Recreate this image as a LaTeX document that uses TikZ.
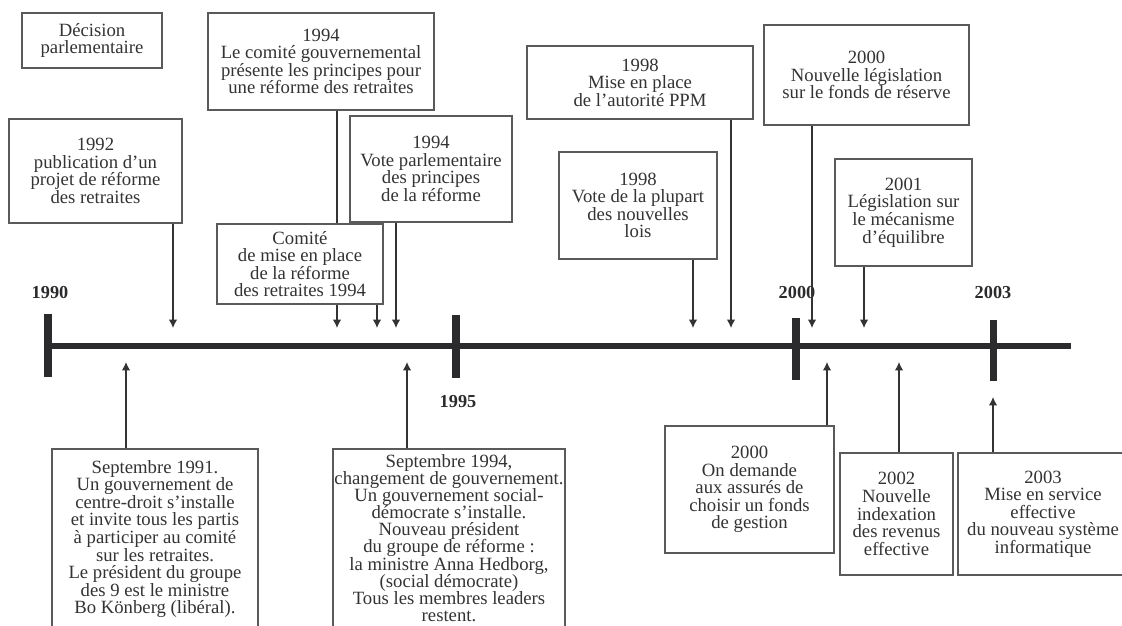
\documentclass[tikz,border=0pt]{standalone}
\usepackage{fontspec}
\setmainfont{Liberation Serif}
\usepackage{tikz}
\usetikzlibrary{arrows.meta}

\definecolor{inkgray}{HTML}{333333}
\definecolor{framegray}{HTML}{5A5A5A}
\definecolor{axisgray}{HTML}{2B2B2E}

\tikzset{
  event/.style={draw=framegray, line width=1pt, fill=white, inner sep=0pt, align=center,
    text=inkgray, font=\fontsize{13.3}{12.5}\selectfont},
  boxsize/.style 2 args={minimum width=#1*0.025cm, minimum height=#2*0.025cm},
  link/.style={->, draw=inkgray, line width=0.8pt},
  year/.style={text=axisgray, font=\fontsize{13}{13}\selectfont\bfseries},
  tick/.style={draw=axisgray, line width=5pt}
}

\begin{document}
\begin{tikzpicture}[x=0.025cm, y=-0.025cm, >={Latex[length=6pt,width=6pt]}]
  \useasboundingbox (0,0) rectangle (1122,625);
  \clip (0,0) rectangle (1122,625);
  \def\axisY{346}
  \def\downY{328}
  \def\upY{362}

  % axe du temps
  \draw[draw=axisgray, line width=4.3pt] (45,\axisY) -- (1071,\axisY);
  \draw[tick] (48,314) -- (48,377);
  \draw[tick] (456,315) -- (456,378);
  \draw[tick] (796,318) -- (796,380);
  \draw[tick] (993,320) -- (993,381);
  \node[year] (y1990) at (50,293) {1990};
  \node[year] (y1995) at (458,402) {1995};
  \node[year] (y2000) at (797,293) {2000};
  \node[year] (y2003) at (993,293) {2003};

  \coordinate (d92) at (173,\downY);
  \coordinate (d94a) at (337,\downY);
  \coordinate (d94b) at (377,\downY);
  \coordinate (d94c) at (396,\downY);
  \coordinate (d98a) at (693,\downY);
  \coordinate (d98b) at (731,\downY);
  \coordinate (d00) at (812,\downY);
  \coordinate (d01) at (864,\downY);
  \coordinate (u91) at (126,\upY);
  \coordinate (u94) at (407,\upY);
  \coordinate (u00) at (827,\upY);
  \coordinate (u02) at (899,\upY);
  \coordinate (u03) at (993,397);

  % au-dessus de l'axe
  \node[event, boxsize={140}{55}] (decision) at (92,40.5) {Décision\\parlementaire};
  \node[event, boxsize={226}{97}] (comgouv) at (321,61.5) {1994\\Le comité gouvernemental\\présente les principes pour\\une réforme des retraites};
  \node[event, boxsize={173}{104}] (projet) at (95.5,171) {1992\\publication d’un\\projet de réforme\\des retraites};
  \node[event, boxsize={162}{106}] (votep) at (431,169) {1994\\Vote parlementaire\\des principes\\de la réforme};
  \node[event, boxsize={226}{73}] (ppm) at (640,82.5) {1998\\Mise en place\\de l’autorité PPM};
  \node[event, boxsize={158}{107}] (lois) at (638,205.5) {1998\\Vote de la plupart\\des nouvelles\\lois};
  \node[event, boxsize={205}{100}] (fonds) at (866.5,75) {2000\\Nouvelle législation\\sur le fonds de réserve};
  \node[event, boxsize={137}{107}] (equil) at (903.5,212.5) {2001\\Législation sur\\le mécanisme\\d’équilibre};

  \draw[link] (projet.south -| d92) -- (d92);
  \draw[link] (comgouv.south -| d94a) -- (d94a);
  \draw[link] (votep.south -| d94c) -- (d94c);
  \draw[link] (lois.south -| d98a) -- (d98a);
  \draw[link] (ppm.south -| d98b) -- (d98b);
  \draw[link] (fonds.south -| d00) -- (d00);
  \draw[link] (equil.south -| d01) -- (d01);

  \node[event, boxsize={166}{80}] (comise) at (300,264) {Comité\\de mise en place\\de la réforme\\des retraites 1994};
  \draw[link] (comise.south -| d94b) -- (d94b);

  % au-dessous de l'axe
  \node[event, boxsize={206}{180}] (sept91) at (155,539) {Septembre 1991.\\Un gouvernement de\\centre-droit s’installe\\et invite tous les partis\\à participer au comité\\sur les retraites.\\Le président du groupe\\des 9 est le ministre\\Bo Könberg (libéral).};
  \node[event, boxsize={232}{178}, font=\fontsize{13.3}{12.2}\selectfont] (sept94) at (449,538) {Septembre 1994,\\changement de gouvernement.\\Un gouvernement social-\\démocrate s’installe.\\Nouveau président\\du groupe de réforme :\\la ministre Anna Hedborg,\\(social démocrate)\\Tous les membres leaders\\restent.};
  \node[event, boxsize={169}{127}] (assures) at (749.5,489.5) {2000\\On demande\\aux assurés de\\choisir un fonds\\de gestion};
  \node[event, boxsize={113}{122}] (index) at (896.5,514) {2002\\Nouvelle\\indexation\\des revenus\\effective};
  \node[event, boxsize={170}{122}] (infosys) at (1043,514) {2003\\Mise en service\\effective\\du nouveau système\\informatique};

  \draw[link] (sept91.north -| u91) -- (u91);
  \draw[link] (sept94.north -| u94) -- (u94);
  \draw[link] (assures.north -| u00) -- (u00);
  \draw[link] (index.north -| u02) -- (u02);
  \draw[link] (infosys.north -| u03) -- (u03);
\end{tikzpicture}
\end{document}
